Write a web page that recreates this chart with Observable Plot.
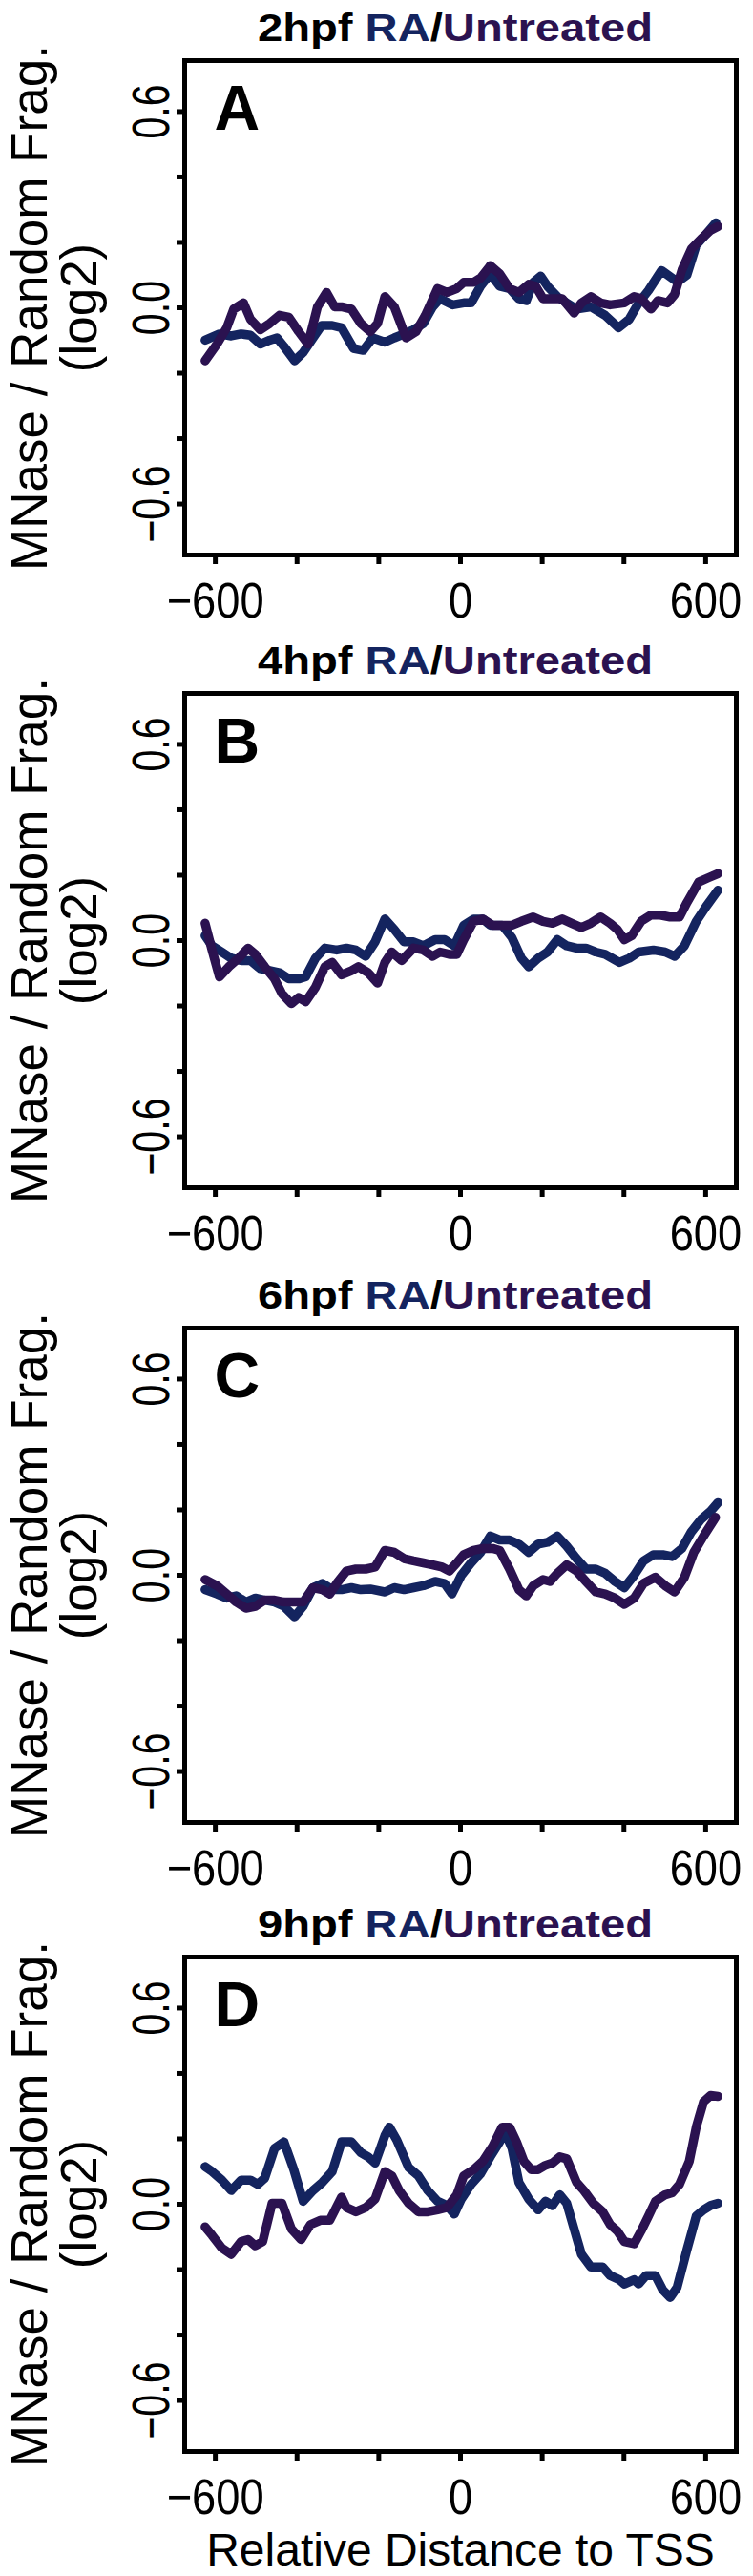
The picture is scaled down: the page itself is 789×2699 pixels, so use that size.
<!DOCTYPE html>
<html>
<head>
<meta charset="utf-8">
<script src="https://cdn.jsdelivr.net/npm/d3@7"></script>
<script src="https://cdn.jsdelivr.net/npm/@observablehq/plot@0.6"></script>
<style>
  html, body { margin: 0; padding: 0; background: #ffffff; }
  #fig { position: relative; width: 789px; height: 2699px; overflow: hidden; background: #ffffff; }
  #fig svg { position: absolute; left: 0; }
</style>
</head>
<body>
<div id="fig"></div>
<script>
// ---------------- data ----------------
const panelLetters = ["A", "B", "C", "D"];
const stages = ["2hpf", "4hpf", "6hpf", "9hpf"];
const xTicks = [-600, -400, -200, 0, 200, 400, 600];
const xTickLabels = ["\u2212600", "", "", "0", "", "", "600"];
const yTicks = [-0.6, -0.4, -0.2, 0, 0.2, 0.4, 0.6];
const yTickLabels = ["\u22120.6", "", "", "0.0", "", "", "0.6"];
const yTitle1 = "MNase / Random Frag.";
const yTitle2 = "(log2)";
const xTitle = "Relative Distance to TSS";
const seriesNames = ["RA", "Untreated"];

const RA_2hpf_x = [-625,-590,-561,-537,-514,-490,-467,-449,-432,-406,-385,-361,-340,-314,-291,-262,-238,-215,-185,-162,-138,-115,-91,-68,-50,-19,8,26,49,73,96,120,143,161,178,196,213,237,260,284,319,354,387,413,436,460,492,531,554,577,601,625];
const RA_2hpf_y = [-0.099,-0.080,-0.086,-0.080,-0.084,-0.111,-0.099,-0.092,-0.118,-0.162,-0.137,-0.092,-0.054,-0.054,-0.061,-0.124,-0.130,-0.092,-0.105,-0.092,-0.080,-0.067,-0.048,0.003,0.028,0.009,0.015,0.015,0.066,0.104,0.066,0.059,0.028,0.022,0.078,0.097,0.066,0.034,0.015,-0.004,0.003,-0.023,-0.061,-0.035,0.015,0.053,0.114,0.079,0.100,0.192,0.225,0.260];
const UN_2hpf_x = [-625,-596,-572,-555,-531,-514,-490,-467,-443,-420,-396,-373,-350,-328,-308,-291,-267,-244,-221,-203,-185,-162,-133,-109,-86,-56,-33,-9,8,32,49,73,96,120,143,167,184,202,225,249,278,296,319,343,366,401,425,442,466,483,507,524,542,565,589,612,630];
const UN_2hpf_y = [-0.162,-0.111,-0.061,-0.004,0.015,-0.035,-0.067,-0.048,-0.023,-0.029,-0.073,-0.111,0.003,0.047,0.003,0.003,-0.004,-0.048,-0.073,-0.048,0.034,0.003,-0.092,-0.073,-0.023,0.059,0.047,0.059,0.078,0.078,0.091,0.129,0.104,0.059,0.047,0.072,0.066,0.028,0.028,0.028,-0.016,0.015,0.034,0.015,0.009,0.015,0.034,0.028,-0.004,0.022,0.015,0.041,0.116,0.180,0.211,0.237,0.249];

const RA_4hpf_x = [-625,-608,-584,-561,-537,-514,-490,-467,-443,-420,-396,-379,-355,-332,-303,-279,-256,-232,-209,-185,-162,-138,-115,-91,-62,-39,-15,8,32,55,73,102,126,149,167,190,213,237,260,284,307,331,354,389,413,436,472,501,524,548,577,601,630];
const RA_4hpf_y = [0.015,-0.016,-0.035,-0.054,-0.061,-0.061,-0.086,-0.092,-0.098,-0.117,-0.117,-0.111,-0.054,-0.023,-0.029,-0.023,-0.029,-0.048,-0.004,0.066,0.034,-0.004,-0.004,-0.016,0.003,0.003,-0.016,0.047,0.066,0.066,0.047,0.047,0.009,-0.054,-0.080,-0.054,-0.035,0.003,-0.016,-0.023,-0.023,-0.035,-0.042,-0.067,-0.054,-0.035,-0.029,-0.035,-0.048,-0.016,0.059,0.104,0.154];
const UN_4hpf_x = [-625,-608,-590,-567,-543,-520,-502,-479,-455,-437,-414,-396,-379,-355,-332,-314,-291,-267,-250,-226,-203,-185,-168,-144,-115,-91,-68,-50,-27,-9,8,32,55,79,102,126,149,178,202,225,249,272,296,319,343,366,384,401,419,442,466,489,513,536,554,583,606,630];
const UN_4hpf_y = [0.053,-0.029,-0.111,-0.080,-0.054,-0.023,-0.042,-0.080,-0.117,-0.162,-0.193,-0.174,-0.187,-0.143,-0.080,-0.067,-0.105,-0.092,-0.080,-0.098,-0.130,-0.067,-0.035,-0.061,-0.023,-0.029,-0.048,-0.035,-0.042,-0.042,0.003,0.059,0.066,0.047,0.047,0.047,0.059,0.072,0.059,0.053,0.066,0.053,0.040,0.053,0.072,0.053,0.034,0.003,0.015,0.059,0.078,0.078,0.072,0.072,0.116,0.179,0.192,0.205];

const RA_6hpf_x = [-625,-596,-572,-549,-525,-502,-479,-455,-432,-406,-385,-361,-338,-314,-291,-267,-244,-221,-185,-162,-138,-115,-91,-62,-39,-21,2,26,49,73,96,120,143,167,190,213,237,260,284,307,331,354,378,401,425,448,472,495,518,542,565,589,612,630];
const RA_6hpf_y = [-0.044,-0.057,-0.070,-0.063,-0.082,-0.070,-0.076,-0.082,-0.095,-0.127,-0.095,-0.038,-0.025,-0.044,-0.044,-0.038,-0.044,-0.042,-0.051,-0.038,-0.044,-0.038,-0.032,-0.019,-0.025,-0.057,0.000,0.038,0.070,0.120,0.108,0.108,0.095,0.070,0.095,0.101,0.120,0.089,0.051,0.019,0.019,0.006,-0.019,-0.038,0.000,0.044,0.063,0.063,0.057,0.082,0.133,0.171,0.196,0.222];
const UN_6hpf_x = [-625,-596,-572,-549,-525,-502,-479,-455,-432,-408,-385,-361,-338,-320,-303,-279,-256,-232,-209,-185,-162,-138,-115,-91,-68,-45,-27,-9,8,32,55,79,96,120,143,161,178,202,219,237,260,284,307,331,354,378,401,425,448,477,501,524,548,571,595,624];
const UN_6hpf_y = [-0.013,-0.032,-0.057,-0.082,-0.101,-0.095,-0.076,-0.076,-0.082,-0.082,-0.082,-0.038,-0.044,-0.057,-0.025,0.013,0.019,0.019,0.025,0.076,0.070,0.051,0.044,0.038,0.032,0.025,0.013,0.038,0.063,0.076,0.082,0.082,0.076,0.019,-0.044,-0.063,-0.032,-0.013,-0.019,0.006,0.032,0.013,-0.019,-0.051,-0.057,-0.070,-0.089,-0.070,-0.025,-0.006,-0.032,-0.051,-0.006,0.070,0.120,0.177];

const RA_9hpf_x = [-625,-608,-584,-561,-537,-514,-496,-479,-455,-432,-408,-385,-361,-338,-314,-291,-267,-244,-226,-209,-185,-174,-156,-127,-103,-80,-56,-33,-15,2,26,49,73,96,108,126,143,167,190,208,225,243,260,278,296,319,348,366,389,401,425,436,454,477,495,513,530,554,577,595,612,630];
const RA_9hpf_y = [0.115,0.100,0.074,0.042,0.074,0.074,0.061,0.080,0.171,0.191,0.106,0.009,0.042,0.067,0.100,0.191,0.191,0.158,0.145,0.126,0.210,0.236,0.197,0.113,0.087,0.042,0.009,-0.004,-0.030,0.016,0.061,0.093,0.145,0.191,0.223,0.171,0.067,0.016,-0.017,0.009,-0.004,0.029,0.003,-0.075,-0.153,-0.192,-0.192,-0.218,-0.231,-0.244,-0.231,-0.244,-0.218,-0.218,-0.262,-0.285,-0.255,-0.140,-0.036,-0.017,-0.004,0.003];
const UN_9hpf_x = [-625,-608,-584,-561,-537,-520,-502,-484,-461,-437,-414,-390,-367,-343,-320,-291,-279,-256,-232,-209,-185,-168,-150,-127,-103,-80,-56,-33,-9,8,32,55,79,102,120,137,155,173,190,208,225,243,260,284,302,325,348,366,384,401,425,442,460,477,501,518,536,560,577,595,612,630];
const UN_9hpf_y = [-0.069,-0.095,-0.134,-0.153,-0.114,-0.108,-0.127,-0.114,0.003,0.003,-0.075,-0.108,-0.062,-0.049,-0.049,0.022,-0.010,-0.023,-0.010,0.016,0.100,0.087,0.042,0.003,-0.023,-0.023,-0.017,-0.010,0.029,0.087,0.106,0.132,0.178,0.236,0.236,0.191,0.132,0.106,0.106,0.119,0.126,0.145,0.139,0.067,0.042,0.003,-0.023,-0.062,-0.082,-0.114,-0.121,-0.082,-0.036,0.009,0.029,0.035,0.061,0.132,0.236,0.314,0.333,0.330];

// ---------------- styling ----------------
const BLUE = "#14245f";
const PURPLE = "#2b1250";
const FONT = "'Liberation Sans', Arial, Helvetica, sans-serif";
const X_DOMAIN = [-675, 675];
const Y_DOMAIN = [-0.756, 0.756];
const M = {top: 63, bottom: 130, left: 193, right: 18};
const FRAME_H = 518;
const SVG_H = M.top + FRAME_H + M.bottom;
const frameTops = [63, 726, 1391, 2050];

const raX = [RA_2hpf_x, RA_4hpf_x, RA_6hpf_x, RA_9hpf_x];
const raY = [RA_2hpf_y, RA_4hpf_y, RA_6hpf_y, RA_9hpf_y];
const unX = [UN_2hpf_x, UN_4hpf_x, UN_6hpf_x, UN_9hpf_x];
const unY = [UN_2hpf_y, UN_4hpf_y, UN_6hpf_y, UN_9hpf_y];

// narrow / widen glyphs along the text direction, about the text's anchor
function squeeze(svg, selector, s) {
  svg.querySelectorAll(selector).forEach(t => {
    const tr = t.getAttribute("transform");
    if (tr) {
      t.setAttribute("transform", tr + ` scale(${s},1)`);
    } else {
      const x = parseFloat(t.getAttribute("x")) || 0;
      const y = parseFloat(t.getAttribute("y")) || 0;
      t.removeAttribute("x"); t.removeAttribute("y");
      t.setAttribute("transform", `translate(${x},${y}) scale(${s},1)`);
    }
  });
}

const fig = document.getElementById("fig");

for (let i = 0; i < 4; i++) {
  const ra = raX[i].map((x, j) => ({x, y: raY[i][j], s: seriesNames[0]}));
  const un = unX[i].map((x, j) => ({x, y: unY[i][j], s: seriesNames[1]}));
  const lineOpts = {x: "x", y: "y", strokeWidth: 9.5, strokeLinejoin: "round", strokeLinecap: "round"};
  const marks = [
    Plot.line(ra, {...lineOpts, stroke: BLUE}),
    Plot.line(un, {...lineOpts, stroke: PURPLE}),
    Plot.frame({stroke: "#000", strokeWidth: 5}),
    Plot.axisX({ticks: xTicks, tickFormat: d => xTickLabels[xTicks.indexOf(d)], tickSize: 10, tickPadding: 19,
      strokeWidth: 5, fontSize: 52, label: null, fill: "#000"}),
    Plot.axisY({ticks: yTicks, tickFormat: d => yTickLabels[yTicks.findIndex(v => Math.abs(v - d) < 1e-9)],
      tickSize: 8, tickPadding: 9, tickRotate: -90, strokeWidth: 5, fontSize: 55, label: null, fill: "#000"}),
    Plot.text([panelLetters[i]], {frameAnchor: "top-left", text: d => d, dx: 31, dy: 72, fontSize: 66,
      fontWeight: "bold", textAnchor: "start", lineAnchor: "bottom", fill: "#000", ariaLabel: "panel-letter"}),
    Plot.text([yTitle1], {frameAnchor: "left", text: d => d, dx: 48 - M.left, rotate: -90, fontSize: 53,
      textAnchor: "middle", lineAnchor: "bottom", fill: "#000", ariaLabel: "ytitle"}),
    Plot.text([yTitle2], {frameAnchor: "left", text: d => d, dx: 100 - M.left, rotate: -90, fontSize: 53,
      textAnchor: "middle", lineAnchor: "bottom", fill: "#000", ariaLabel: "ytitle"})
  ];
  if (i === 3) {
    marks.push(Plot.text([xTitle], {frameAnchor: "bottom", text: d => d, dy: 119, fontSize: 48,
      textAnchor: "middle", lineAnchor: "bottom", fill: "#000", ariaLabel: "xtitle"}));
  }
  const svg = Plot.plot({
    width: 789, height: SVG_H,
    marginTop: M.top, marginBottom: M.bottom, marginLeft: M.left, marginRight: M.right,
    style: {background: "transparent", fontFamily: FONT, overflow: "visible", color: "#000"},
    x: {domain: X_DOMAIN},
    y: {domain: Y_DOMAIN},
    marks
  });
  // title (multi-coloured) added above the frame
  const t = d3.select(svg).append("text")
    .attr("transform", `translate(477,${M.top - 20}) scale(1.18,1)`)
    .attr("text-anchor", "middle")
    .attr("font-family", FONT).attr("font-weight", "bold").attr("font-size", 40);
  t.append("tspan").attr("fill", "#000").text(stages[i] + " ");
  t.append("tspan").attr("fill", BLUE).text(seriesNames[0]);
  t.append("tspan").attr("fill", "#000").text("/");
  t.append("tspan").attr("fill", PURPLE).text(seriesNames[1]);

  squeeze(svg, 'g[aria-label="x-axis tick label"] text', 0.87);
  squeeze(svg, 'g[aria-label="y-axis tick label"] text', 0.75);
  squeeze(svg, 'g[aria-label="ytitle"] text', 0.9);
  squeeze(svg, 'g[aria-label="xtitle"] text', 0.98);
  squeeze(svg, 'g[aria-label="panel-letter"] text', 1.12);

  svg.style.top = (frameTops[i] - M.top) + "px";
  fig.appendChild(svg);
}
</script>
</body>
</html>
